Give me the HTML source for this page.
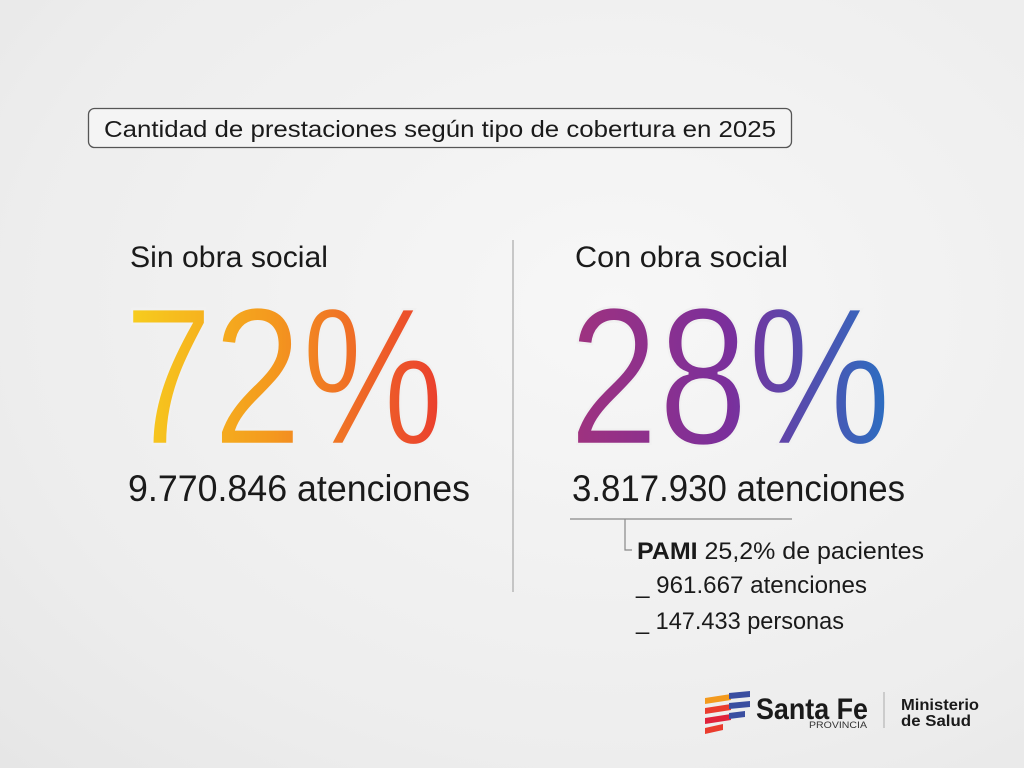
<!DOCTYPE html>
<html><head><meta charset="utf-8"><style>
html,body{margin:0;padding:0}
body{width:1024px;height:768px;overflow:hidden;background:radial-gradient(ellipse at 60% 40%,#f7f7f7 0%,#ededed 70%,#e6e6e6 100%);font-family:"Liberation Sans",sans-serif;}
</style></head><body>
<svg width="1024" height="768" xmlns="http://www.w3.org/2000/svg" style="position:absolute;left:0;top:0">
<defs>
<linearGradient id="g1" x1="125" y1="0" x2="445" y2="0" gradientUnits="userSpaceOnUse">
<stop offset="0" stop-color="#f7cf1e"/><stop offset="0.45" stop-color="#f49a1e"/><stop offset="1" stop-color="#ea3c2e"/></linearGradient>
<linearGradient id="g2" x1="570" y1="0" x2="890" y2="0" gradientUnits="userSpaceOnUse">
<stop offset="0" stop-color="#a0327e"/><stop offset="0.5" stop-color="#7a2f9c"/><stop offset="1" stop-color="#2b6fc2"/></linearGradient>
</defs>
<rect x="88.5" y="108.5" width="703" height="39" rx="6" fill="#f4f4f4" stroke="#555" stroke-width="1.3"/>
<text x="104" y="137" font-size="23" fill="#1a1a1a" textLength="672" lengthAdjust="spacingAndGlyphs">Cantidad de prestaciones según tipo de cobertura en  2025</text>
<text x="130" y="267" font-size="30" fill="#1a1a1a" textLength="198" lengthAdjust="spacingAndGlyphs">Sin obra social</text>
<text x="575" y="267" font-size="30" fill="#1a1a1a" textLength="213" lengthAdjust="spacingAndGlyphs">Con obra social</text>
<text x="124" y="444" font-size="196" fill="url(#g1)" stroke="#f1f1f1" stroke-width="2.5" textLength="320" lengthAdjust="spacingAndGlyphs">72%</text>
<text x="569" y="444" font-size="196" fill="url(#g2)" stroke="#f1f1f1" stroke-width="2.5" textLength="322" lengthAdjust="spacingAndGlyphs">28%</text>
<text x="128" y="501" font-size="37" fill="#1a1a1a" textLength="342" lengthAdjust="spacingAndGlyphs">9.770.846 atenciones</text>
<text x="572" y="501" font-size="37" fill="#1a1a1a" textLength="333" lengthAdjust="spacingAndGlyphs">3.817.930 atenciones</text>
<line x1="513" y1="240" x2="513" y2="592" stroke="#999" stroke-width="1"/>
<line x1="570" y1="519" x2="792" y2="519" stroke="#888" stroke-width="1.2"/>
<polyline points="625,519 625,550 632,550" fill="none" stroke="#888" stroke-width="1.2"/>
<text x="637" y="559" font-size="24" fill="#1a1a1a" textLength="287" lengthAdjust="spacingAndGlyphs"><tspan font-weight="bold">PAMI</tspan> 25,2% de pacientes</text>
<text x="636" y="593" font-size="24" fill="#1a1a1a" textLength="231" lengthAdjust="spacingAndGlyphs">_ 961.667 atenciones</text>
<text x="636" y="629" font-size="24" fill="#1a1a1a" textLength="208" lengthAdjust="spacingAndGlyphs">_ 147.433 personas</text>
<g transform="translate(703,690)">
<path d="M2,8 L28,4 L28,10 L2,14Z" fill="#f39a1e"/><path d="M26,3 L47,1 L47,7 L26,9Z" fill="#3a4ea0"/>
<path d="M2,18 L28,14 L28,20 L2,24Z" fill="#ea3c2e"/><path d="M26,13 L47,11 L47,17 L26,19Z" fill="#3a4ea0"/>
<path d="M2,28 L28,24 L28,30 L2,34Z" fill="#e0223a"/><path d="M26,23 L42,21 L42,27 L26,29Z" fill="#3a4ea0"/>
<path d="M2,38 L20,34 L20,40 L2,44Z" fill="#ea3c2e"/>
</g>
<text x="756" y="719" font-size="30" font-weight="bold" fill="#1a1a1a" textLength="112" lengthAdjust="spacingAndGlyphs">Santa Fe</text>
<text x="809" y="728" font-size="9" fill="#333" textLength="58" lengthAdjust="spacingAndGlyphs">PROVINCIA</text>
<line x1="884" y1="692" x2="884" y2="728" stroke="#aaa" stroke-width="1"/>
<text x="901" y="710" font-size="16" font-weight="bold" fill="#1a1a1a" textLength="78" lengthAdjust="spacingAndGlyphs">Ministerio</text>
<text x="901" y="726" font-size="16" font-weight="bold" fill="#1a1a1a" textLength="70" lengthAdjust="spacingAndGlyphs">de Salud</text>
</svg>
</body></html>
